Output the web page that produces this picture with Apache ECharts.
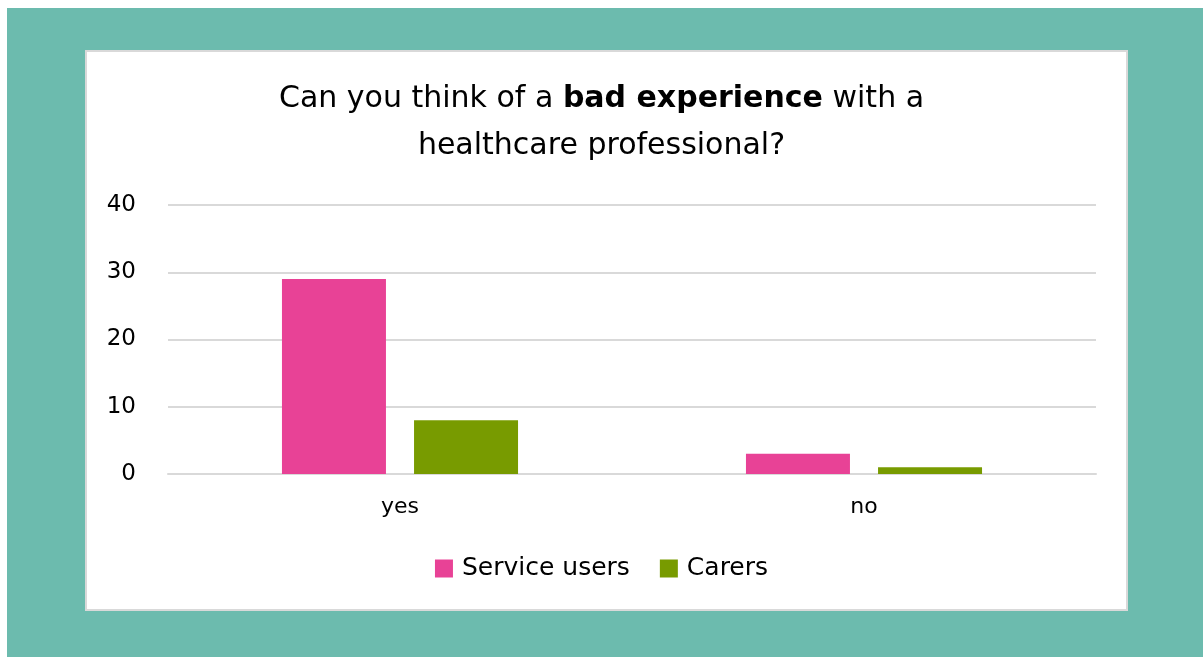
<!DOCTYPE html>
<html>
<head>
<meta charset="utf-8">
<script src="https://cdn.jsdelivr.net/npm/echarts@6/dist/echarts.min.js"></script>
<style>
  html, body { margin: 0; padding: 0; background: #ffffff; }
  #chart { width: 1203px; height: 657px; }
</style>
</head>
<body>
<div id="chart"></div>
<script>
// Survey answers per group
const categories = ['yes', 'no'];
const serviceUsers = [29, 3];
const carers = [8, 1];
const yTicks = [0, 10, 20, 30, 40];

const FONT = '"DejaVu Sans", sans-serif';
const chart = echarts.init(document.getElementById('chart'), null, { renderer: 'canvas' });

chart.setOption({
  animation: false,
  backgroundColor: '#ffffff',
  textStyle: { fontFamily: FONT },
  graphic: [
    { type: 'rect', z: -10, silent: true,
      shape: { x: 7, y: 8, width: 1196, height: 649 },
      style: { fill: '#6cbbae' } },
    { type: 'rect', z: -9, silent: true,
      shape: { x: 86, y: 51, width: 1041, height: 559 },
      style: { fill: '#ffffff', stroke: '#d9d9d9', lineWidth: 2 } }
  ],
  title: {
    text: '{n|Can you think of a }{b|bad experience}{n| with a}\n{n|healthcare professional?}',
    left: 'center',
    top: 71,
    textStyle: {
      fontWeight: 'normal',
      rich: {
        n: { fontFamily: FONT, fontSize: 30, fontWeight: 'normal', color: '#000000', lineHeight: 47 },
        b: { fontFamily: FONT, fontSize: 30, fontWeight: 'bold', color: '#000000', lineHeight: 47 }
      }
    }
  },
  legend: {
    data: ['Service users', 'Carers'],
    left: 'center',
    top: 551,
    icon: 'rect',
    itemWidth: 18,
    itemHeight: 18,
    itemGap: 30,
    textStyle: { fontFamily: FONT, fontSize: 25, color: '#000000', padding: [0, 0, 0, 4] }
  },
  grid: { left: 168, right: 107, top: 205, bottom: 183, containLabel: false },
  xAxis: {
    type: 'category',
    data: categories,
    axisLine: { show: true, lineStyle: { color: '#d9d9d9', width: 2 } },
    axisTick: { show: false },
    axisLabel: { fontFamily: FONT, fontSize: 22, color: '#000000', margin: 22 }
  },
  yAxis: {
    type: 'value',
    min: yTicks[0],
    max: yTicks[yTicks.length - 1],
    interval: 10,
    axisLine: { show: false },
    axisTick: { show: false },
    axisLabel: { fontFamily: FONT, fontSize: 23, color: '#000000', margin: 32 },
    splitLine: { lineStyle: { color: '#d9d9d9', width: 2 } }
  },
  series: [
    { name: 'Service users', type: 'bar', data: serviceUsers,
      barWidth: 104, barGap: '27%',
      itemStyle: { color: '#e84296' } },
    { name: 'Carers', type: 'bar', data: carers,
      barWidth: 104,
      itemStyle: { color: '#789b00' } }
  ]
});
</script>
</body>
</html>
